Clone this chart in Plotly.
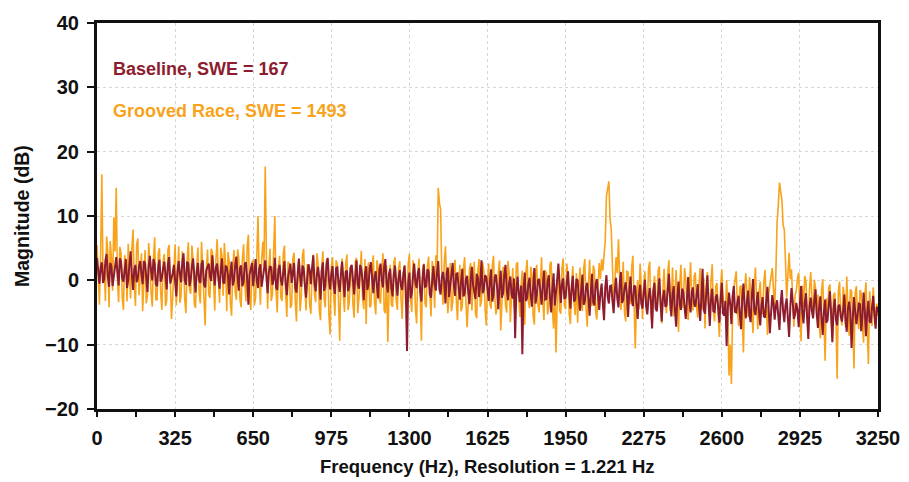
import plotly.graph_objects as go

# Frequency grid (Hz), 5 Hz steps from 0 to 3250
freq_start = 0
freq_step = 5
freq = [freq_start + i * freq_step for i in range(651)]

# Baseline spectrum (dB)
baseline_db = [
    3.5,0.8, -0.5,1.9, 2.8,-0.4, 0.2,3.1, 4.1,0.6, -1.0,2.7, 2.2,-0.9, 0.5,2.0, 3.6,1.2, -0.8,3.4, 2.9,0.3, -0.2,1.6, 3.3,-1.2, 0.1,2.5, 4.5,0.9, -1.5,1.7, 2.4,-0.3, 0.3,2.2, 3.0,1.0, -0.6,3.0, 2.7,0.4, -1.8,2.1, 3.8,1.5, 0.0,3.3, 2.5,-0.6,
    -0.9,2.1, 3.2,-0.2, 0.4,1.8, 2.9,0.9, -1.4,2.4, 3.6,-0.5, 0.2,1.1, 2.4,0.2, -2.5,1.4, 3.0,1.0, -0.3,2.8, 4.2,0.1, -0.7,2.9, 2.6,-0.9, 0.1,2.2, 3.4,0.7, -1.9,1.3, 2.7,0.0, -0.4,2.5, 3.1,-0.6, -1.1,1.6, 2.2,2.6, 0.6,-0.1, 3.9,1.2, -0.8,2.0,
    2.6,0.4, -1.3,1.5, 3.4,-0.3, -0.5,2.2, 2.1,0.8, -2.2,1.0, 2.9,-0.8, 0.0,2.3, 3.7,0.5, -1.6,1.9, 2.3,-0.9, -0.2,2.6, 2.8,0.2, -3.8,0.9, 2.0,2.7, -0.9,1.3, 3.3,-0.1, -1.2,1.8, 2.5,-1.0, 0.3,2.4, 3.1,0.6, -2.0,1.2, 2.2,2.0, -0.7,0.1, 3.5,-1.1,
    -1.5,1.7, 2.4,0.1, -0.8,1.2, 3.0,-0.4, -2.3,0.5, 1.9,2.6, -0.4,1.4, 2.7,-1.2, -1.9,0.8, 3.4,0.6, -1.0,2.3, 1.8,-0.7, -2.7,0.4, 2.5,1.6, -0.6,2.0, 3.9,-0.5, -1.7,0.9, 2.1,0.3, -3.0,1.5, 2.8,-1.6, -0.9,2.4, 3.5,0.2, -1.4,1.0, 2.2,-0.8, -2.1,1.9,
    2.0,-0.4, -1.8,0.9, 2.9,0.2, -2.6,1.3, 1.5,-1.7, -0.9,2.0, 2.4,0.1, -2.2,0.7, 3.1,-0.6, -1.3,2.4, 1.7,-0.2, -3.1,1.1, 2.2,-1.5, -0.7,1.9, 2.8,0.3, -2.0,0.6, 1.4,-0.9, -2.8,1.5, 2.6,0.0, -1.1,2.1, 3.3,-0.5, -1.9,1.0, 1.8,-1.2, -2.5,0.8, 2.3,-0.3,
    -2.4,0.3, 1.6,-0.9, -1.5,1.0, 2.3,-1.6, -11.0,-0.5, 1.2,-2.8, -2.0,0.6, 2.6,-0.3, -1.2,1.1, 1.9,-1.8, -3.3,0.4, 2.5,-1.0, -0.9,1.7, 1.4,-2.2, -2.7,0.0, 2.2,-0.6, -1.6,1.2, 3.0,-1.4, -2.2,0.5, 1.3,-0.2, -3.6,1.1, 2.0,-2.6, -1.0,0.2, 2.7,-0.7, -2.4,1.0,
    1.1,-1.2, -3.0,-0.3, 1.8,-2.5, -2.1,0.2, 0.7,-1.9, -3.7,0.1, 2.1,-0.7, -1.8,-2.9, 1.0,0.4, -2.6,-0.5, 3.1,-2.0, -1.4,0.8, 0.5,-1.6, -3.2,-0.1, 1.7,-3.3, -2.3,0.5, 0.9,-1.1, -4.5,-0.8, 1.5,-2.7, -2.0,0.9, 2.4,-1.4, -3.1,-0.4, 0.6,-2.2, -2.8,0.3, -9.0,-1.8,
    0.6,-2.0, -3.4,-0.8, -11.5,-1.5, 1.2,-3.2, -2.7,-0.6, 0.4,-2.4, -4.1,-1.0, 1.9,-3.6, -2.3,0.0, 0.2,-1.7, -3.8,-0.9, 1.5,-3.0, -2.9,-0.2, 0.8,-2.6, -5.0,-1.3, 1.1,-3.9, -2.2,0.1, 2.6,-1.1, -3.5,-0.5, 0.3,-2.9, -2.6,-0.4, 1.4,-1.9, -4.4,-1.2, 0.7,-3.3, -3.0,0.2,
    0.0,-2.6, -4.7,-1.5, 0.9,-3.8, -3.3,-1.0, -0.4,-2.9, -5.5,-1.8, 1.0,-3.4, -3.9,-0.7, 0.2,-2.3, -4.6,-1.9, -0.5,-3.7, -6.2,-1.1, 0.8,-2.5, -3.6,-0.9, -0.8,-3.2, -5.1,-1.6, 0.4,-2.8, -4.2,-0.6, 1.3,-3.5, -3.0,-1.3, -0.3,-2.1, -5.7,-1.7, 0.6,-3.0, -4.0,-0.8, -1.0,-3.9,
    -6.0,-2.4, -0.7,-3.6, -4.4,-1.9, 0.1,-4.0, -5.3,-2.8, -1.2,-3.1, -7.5,-1.6, -0.4,-4.4, -4.8,-2.0, 0.3,-3.3, -6.4,-2.7, -1.5,-4.1, -3.9,-1.4, 1.0,-3.0, -5.6,-2.2, -0.9,-4.6, -7.2,-2.5, -0.2,-3.8, -4.6,-1.3, -1.8,-4.2, -6.0,-2.9, 0.5,-3.4, -5.0,-1.8, -1.1,-3.7, -4.1,-2.3,
    -0.6,-3.9, -6.3,-2.7, 1.8,-4.6, -5.2,-2.1, 0.8,-3.5, -7.1,-2.9, -1.3,-4.8, -4.9,-2.6, -2.2,-4.3, -6.6,-3.0, -0.4,-5.1, -5.5,-3.2, -10.2,-4.4, -1.9,-3.6, -6.8,-2.5, -0.9,-4.9, -5.0,-3.3, -2.4,-5.2, -7.6,-2.8, -0.5,-4.0, -5.9,-3.1, -1.6,-5.4, -6.5,-2.4, 0.2,-4.7, -5.4,-3.4,
    -1.8,-4.9, -7.0,-3.8, -2.6,-5.6, -5.8,-3.2, -1.0,-4.4, -8.2,-5.1, -2.3,-3.6, -6.1,-4.0, -3.1,-5.5, -7.7,-3.4, -1.5,-4.7, -6.5,-3.9, -2.8,-5.9, -8.8,-4.2, -1.2,-3.3, -6.0,-5.3, -3.5,-4.6, -7.3,-3.7, -0.9,-5.0, -6.7,-3.5, -2.0,-5.8, -9.1,-4.1, -2.7,-4.8, -5.9,-3.1, -1.4,-5.2,
    -7.4,-4.3, -2.5,-5.8, -8.5,-4.9, -3.0,-6.6, -6.2,-3.9, -1.7,-5.2, -9.6,-4.5, -2.9,-6.1, -7.0,-4.0, -3.8,-5.6, -6.4,-4.8, -2.2,-6.3, -8.0,-4.4, -3.3,-5.0, -10.5,-6.0, -2.6,-4.7, -6.8,-5.4, -3.6,-3.7, -7.9,-5.9, -1.9,-4.6, -8.7,-5.1, -3.2,-6.4, -6.6,-4.2, -2.4,-5.5, -7.5,-4.1,
    -5.0,
]

# Grooved race spectrum (dB)
grooved_db = [
    5.5,1.0, -3.8,3.4, 16.5,0.8, 2.5,-3.2, 6.8,4.4, -4.2,6.1, 3.5,-1.6, 9.8,4.5, 14.4,0.2, -3.4,5.2, 4.3,-2.7, -4.6,3.9, 2.8,-3.3, 5.7,0.6, -2.8,5.0, 7.9,-0.5, -4.0,5.6, 6.5,-2.3, 1.5,4.2, -4.8,1.9, 4.7,-3.6, -2.4,5.8, 3.0,-1.9, -4.1,3.3, 6.7,-3.0,
    -3.0,4.2, 5.0,-1.8, -4.6,2.9, 4.1,-4.0, -3.2,4.7, 5.5,0.3, -6.0,-2.6, 2.2,5.6, -3.9,1.5, 5.3,-3.5, -2.3,4.5, 3.4,-2.9, -5.1,3.0, 5.9,-1.4, -2.1,5.4, 3.1,-3.7, -4.3,2.3, 5.1,-2.0, -3.6,6.0, 2.0,-4.1, -7.0,1.7, 4.8,-2.2, -2.7,4.9, 4.4,0.1, -4.7,3.3,
    6.4,0.5, -3.5,5.1, 3.8,-2.4, 5.8,2.4, -4.8,4.4, 2.9,-3.4, -5.5,1.9, 4.7,-1.8, -3.0,4.8, 3.5,-3.0, -4.2,3.4, 5.6,-0.5, -3.3,5.3, 7.1,-2.5, -4.6,2.7, 3.2,-3.9, -2.7,3.6, 10.0,0.4, -3.8,3.0, 6.0,2.2, 17.7,3.5, -4.4,1.8, 4.9,-3.2, -2.2,4.6, 10.0,-1.7,
    -5.0,2.1, 3.8,-2.7, -3.2,4.1, 5.4,-2.0, -5.7,2.9, 2.5,-4.3, -3.8,3.4, 4.3,-3.1, -6.4,1.6, 3.0,-4.8, -2.5,3.9, 4.9,-1.6, -4.7,2.5, 2.2,-3.8, -5.2,1.3, 4.0,-2.2, -3.4,4.2, 2.6,-4.5, -6.2,1.9, 4.5,-2.9, -4.2,3.3, 2.9,-5.4, -8.4,2.0, 3.6,-2.4, -5.5,3.1,
    2.5,-3.2, -9.4,1.4, 3.4,-2.3, -4.9,2.6, 4.0,-4.6, -3.3,1.8, 2.1,-3.7, -5.8,2.9, 3.5,-5.1, -2.8,1.2, 4.6,-2.6, -4.5,3.3, -6.8,1.1, 2.8,-4.2, -3.9,2.0, 3.9,-3.4, -5.3,3.1, 1.9,-2.8, -3.6,1.5, 4.2,-4.7, -5.1,2.3, -9.6,-2.1, 2.4,-3.8, -4.1,2.8, 3.6,-3.1,
    -4.6,1.9, 3.0,-2.8, -6.0,1.2, 2.3,-4.1, -3.4,2.4, 4.1,-3.0, -4.9,3.1, 1.8,-4.4, -6.7,1.3, 3.4,-2.7, -9.4,1.6, 2.6,-3.6, -4.2,2.2, 3.7,-2.0, -5.6,3.0, 1.5,-4.3, 3.9,1.0, 14.4,12.0, 11.0,0.5, -3.8,2.6, 5.3,-0.5, -5.1,-2.4, 2.7,-4.8, -3.5,1.7, 3.2,-2.9,
    -6.2,-0.8, 2.4,-4.8, -4.1,1.9, 3.6,-3.0, -7.3,-3.6, 1.7,2.7, -4.7,-0.5, 2.9,-5.1, -5.9,1.6, 3.3,-4.1, -3.2,2.8, 1.4,-4.5, -7.0,-0.4, 2.6,-3.7, -4.4,2.3, 3.8,-2.4, -5.3,-4.2, 1.2,3.1, -7.8,-3.4, 2.1,-0.1, -3.9,-5.0, 3.0,1.3, -6.5,-2.6, 1.9,-3.9, -4.8,2.5,
    2.8,-2.8, -5.7,-0.7, 1.5,-4.6, -6.9,1.4, 3.2,-3.3, -4.3,2.1, 0.8,-5.6, -6.9,1.2, 2.4,-3.8, -5.0,-0.3, 3.6,-3.1, -6.2,1.6, 1.1,-5.3, -4.1,2.5, 2.9,-4.2, -7.5,-1.4, -11.2,-3.2, 1.8,-4.7, -5.2,1.9, 3.4,-3.9, -4.5,2.6, 0.5,-5.2, -6.8,-0.6, 2.2,-3.5, -5.4,1.1,
    -6.6,-1.2, 2.0,-3.6, -4.8,1.7, 3.3,-4.2, -7.2,-0.5, 3.2,-2.8, -4.0,2.3, 1.6,-4.9, -6.1,-0.9, 2.7,0.2, 3.3,1.5, 4.8,6.2, 13.1,14.0, 15.4,9.5, 7.9,2.0, -2.7,-0.2, 3.6,1.1, 6.4,0.5, -4.6,-2.2, 2.9,-5.0, -6.4,1.4, 1.3,-3.1, -3.7,2.0, 3.8,-3.8, -10.6,-2.6,
    0.0,-4.5, 2.6,-1.1, -6.0,-0.9, 1.4,-3.9, -4.4,1.8, 2.9,-5.1, -7.3,-1.5, 0.7,-4.4, -3.8,1.5, 2.2,-4.0, -6.7,-1.3, 1.8,-3.2, -5.1,1.3, 3.1,-4.8, -2.9,2.0, -5.6,-1.8, 1.6,-3.6, -8.0,-0.7, 2.4,-4.3, -3.4,1.9, 0.2,-4.1, -6.2,-1.2, 2.8,-3.4, -4.7,0.6, 1.2,-4.2,
    -5.8,-0.7, 1.9,-4.6, -4.0,0.4, -7.5,-1.2, 1.3,-3.7, -5.1,0.0, 2.5,-4.8, -6.4,-0.9, -0.4,-5.5, -8.8,-1.0, 1.7,-2.7, -4.3,-5.2, 0.0,-4.4, -14.8,-10.0, -16.1,-4.7, -1.2,0.2, 1.4,-4.1, -7.1,-1.1, -0.8,-5.8, -11.2,-1.6, 1.1,-2.5, -5.7,0.5, -1.5,-5.0, -8.2,-1.0, 2.0,-3.6,
    -7.6,-1.9, -0.2,-4.8, -5.2,-0.3, 1.6,-3.7, -8.5,-2.1, -1.0,0.6, 1.9,-2.8, -4.6,1.2, 9.0,11.5, 15.2,13.8, 12.6,8.6, 7.9,3.0, -2.7,0.8, 4.3,0.2, 1.7,-3.2, -7.2,-2.3, -1.6,0.3, 1.2,-5.4, -9.5,-0.8, -4.2,0.7, -0.1,-4.9, -8.1,-1.4, 1.3,-2.8, -5.9,0.1, -1.2,-5.3,
    -2.2,-6.7, -9.0,-1.6, 0.2,-6.1, -12.5,-2.8, -5.3,-1.2, -0.6,-6.2, -9.0,-2.3, -1.9,-5.9, -15.3,-1.8, -0.2,-5.6, -7.0,-1.0, -2.5,-7.3, 0.6,-4.8, -8.6,-1.4, -1.7,-6.5, -13.7,-2.0, -0.9,-6.0, -7.6,-1.5, -2.0,-6.9, -9.7,-2.4, -0.3,-7.4, -13.0,-1.7, -5.6,-7.1, -1.1,-5.1, -7.2,-3.6,
    -5.5,
]

x_ticks = [0, 325, 650, 975, 1300, 1625, 1950, 2275, 2600, 2925, 3250]
y_ticks = [-20, -10, 0, 10, 20, 30, 40]

baseline_label = "Baseline, SWE = 167"
grooved_label = "Grooved Race, SWE = 1493"
x_title = "Frequency (Hz), Resolution = 1.221 Hz"
y_title = "Magnitude (dB)"

BASE_COLOR = "#8c1c2e"
GROOVE_COLOR = "#f8a31b"
FONT = "Liberation Sans, Arial, sans-serif"
INK = "#111111"

fig = go.Figure()
fig.add_trace(go.Scatter(x=freq, y=grooved_db, mode="lines",
                         line=dict(color=GROOVE_COLOR, width=1.6), name=grooved_label))
fig.add_trace(go.Scatter(x=freq, y=baseline_db, mode="lines",
                         line=dict(color=BASE_COLOR, width=2.0), name=baseline_label))

fig.add_annotation(x=0.018, y=32.9, xref="paper", yref="y", text=baseline_label,
                   showarrow=False, xanchor="left", yanchor="middle",
                   font=dict(family=FONT, size=18, color=BASE_COLOR, weight="bold"))
fig.add_annotation(x=0.018, y=26.3, xref="paper", yref="y", text=grooved_label,
                   showarrow=False, xanchor="left", yanchor="middle",
                   font=dict(family=FONT, size=18, color=GROOVE_COLOR, weight="bold"))

# Axis titles placed as paper annotations
fig.add_annotation(x=0.5, y=-0.150, xref="paper", yref="paper", text=x_title,
                   showarrow=False, xanchor="center", yanchor="middle",
                   font=dict(family=FONT, size=18.5, color=INK, weight="bold"))
fig.add_annotation(x=-0.096, y=0.5, xref="paper", yref="paper", text=y_title,
                   showarrow=False, xanchor="center", yanchor="middle", textangle=-90,
                   font=dict(family=FONT, size=19.5, color=INK, weight="bold"))

# The page body adds an 8 px offset, so the figure is sized to fit the window
fig.update_layout(
    width=901, height=474,
    margin=dict(l=89, r=31, t=15, b=73),
    paper_bgcolor="white", plot_bgcolor="white",
    showlegend=False,
    font=dict(family=FONT, color=INK),
)
fig.update_xaxes(
    range=[0, 3250], tickvals=x_ticks, ticks="outside", ticklen=5, tickwidth=1.5, tickcolor=INK,
    showline=True, linewidth=3, linecolor=INK, mirror=True, automargin=False,
    showgrid=True, gridcolor="#d6d6d6", gridwidth=1, griddash="dot",
    minor=dict(dtick=162.5, tick0=0, ticks="outside", ticklen=5, tickwidth=1.5, tickcolor=INK, showgrid=False),
    tickfont=dict(family=FONT, size=20, color=INK, weight="bold"),
    ticklabelstandoff=4,
    zeroline=False,
)
fig.update_yaxes(
    range=[-20, 40], tickvals=y_ticks, ticks="outside", ticklen=7, tickwidth=1.5, tickcolor=INK,
    showline=True, linewidth=3, linecolor=INK, mirror=True, automargin=False,
    showgrid=True, gridcolor="#d6d6d6", gridwidth=1, griddash="dot",
    tickfont=dict(family=FONT, size=20, color=INK, weight="bold"),
    ticklabelstandoff=4,
    zeroline=False,
)

fig.write_html("out.html")
